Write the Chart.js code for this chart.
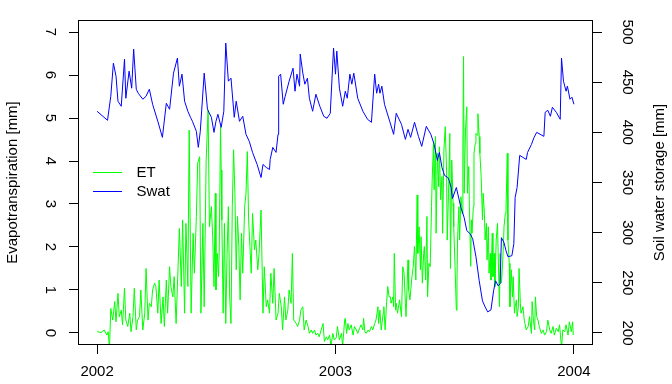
<!DOCTYPE html>
<html><head><meta charset="utf-8">
<script src="https://cdn.jsdelivr.net/npm/chart.js@4.4.1/dist/chart.umd.min.js"></script>
<style>html,body{margin:0;padding:0;background:#fff}#wrap{width:672px;height:384px}</style>
</head><body><div id="wrap"><canvas id="c" width="672" height="384"></canvas></div>
<script>
// ---- data (day offset from 2002-01-01) ----
const yearTicks = [0, 365, 730];
const yearLabels = ['2002', '2003', '2004'];
const etTicks = [0, 1, 2, 3, 4, 5, 6, 7];
const swatTicks = [200, 250, 300, 350, 400, 450, 500];

const etDays = [0,6,11,15,17,19,21,24,27,29,32,34,37,39,42,44,47,50,52,55,57,60,62,65,67,70,73,75,78,80,83,85,88,90,93,95,98,101,103,106,108,111,113,116,118,121,124,126,129,131,134,136,139,141,144,147,149,152,154,157,159,162,164,167,170,172,175,177,179,181,182,184,186,187,189,190,191,193,195,197,199,201,203,205,207,209,211,213,215,217,219,221,223,226,228,230,232,234,236,238,241,243,246,248,251,254,256,259,261,264,266,269,271,274,277,279,282,284,287,289,292,294,297,299,301,305,307,310,312,315,317,320,323,325,328,330,333,335,338,340,343,346,348,351,353,356,358,361,363,366,368,371,374,376,379,380,382,384,386,389,392,394,397,399,402,404,407,408,410,412,415,417,420,422,425,427,430,431,433,435,438,439,441,443,445,447,449,450,453,454,455,457,458,460,463,466,468,470,472,473,476,477,479,482,484,486,488,490,491,493,495,496,498,500,501,503,505,506,508,510,512,513,515,516,518,519,521,523,524,526,528,529,531,533,535,536,538,540,541,543,545,546,548,550,551,552,554,555,557,559,560,561,562,564,566,567,569,570,572,573,574,576,577,579,580,582,583,585,586,588,590,591,593,594,596,597,599,600,602,603,605,606,608,609,611,613,614,616,617,619,620,622,623,625,626,628,629,631,632,634,636,637,639,640,642,643,645,646,648,649,652,654,657,660,662,665,666,668,670,671,673,675,677,680,683,685,688,690,693,695,698,700,703,706,708,711,713,716,718,721,723,726,728,729,730];
const etValues = [0.03,0.01,0.07,-0.05,0.03,-0.35,0.57,0.30,0.73,0.26,0.92,0.38,0.53,0.19,1.04,0.30,0.15,0.46,0.03,0.38,1.04,0.07,0.30,0.38,1.0,0.07,0.46,1.50,0.30,0.69,0.61,1.0,1.16,1.08,0.46,1.23,0.22,0.84,0.15,1.23,0.46,1.54,1.08,0.84,1.31,0.22,1.54,2.43,1.08,2.63,0.46,2.55,1.08,4.72,0.46,2.32,1.39,2.71,3.95,4.10,0.46,2.55,0.61,4.02,5.19,2.47,2.94,2.24,1.08,3.25,1.0,1.85,1.31,1.93,4.80,3.79,2.63,0.46,2.55,0.22,1.85,2.94,0.84,0.22,2.94,4.26,3.25,1.47,2.71,2.01,0.77,2.32,1.39,2.94,3.25,4.22,2.63,2.01,1.39,2.78,1.93,2.16,1.47,1.85,2.86,0.46,1.54,0.61,0.77,0.46,1.39,0.69,1.50,0.30,0.46,0.92,0.61,0.07,0.84,0.30,0.53,1.0,0.69,1.85,0.30,0.22,0.15,0.30,0.53,0.61,0.07,0.30,0.15,-0.01,0.07,-0.01,0.07,-0.05,-0.01,-0.09,0.07,0.22,-0.2,-0.09,-0.16,-0.05,-0.3,-0.01,-0.16,-0.12,0.15,-0.16,-0.01,-0.3,0.30,0.34,-0.01,0.22,0.07,0.19,-0.05,0.15,0.07,-0.01,0.11,0.19,0.07,0.34,0.03,-0.01,0.07,0.03,0.15,0.07,0.22,0.30,0.61,0.22,0.53,0.07,0.46,0.61,0.07,0.65,1.08,0.84,0.84,0.69,0.84,0.61,1.85,0.53,0.69,0.46,0.77,0.38,1.54,1.39,0.69,0.38,1.70,1.0,0.77,1.31,1.54,2.01,1.23,3.21,1.85,2.47,1.47,2.24,1.16,1.85,2.01,1.23,2.71,0.84,1.62,1.54,2.94,3.56,4.41,3.33,4.57,2.32,4.18,3.40,4.33,3.1,3.64,2.32,4.26,4.80,3.79,2.16,3.25,4.64,1.5,4.02,3.02,2.47,1.55,0.53,1.23,2.24,2.94,2.16,3.17,2.78,4.33,6.43,3.25,4.72,5.26,3.25,3.87,2.94,1.55,2.63,2.32,2.94,4.18,4.41,4.64,4.60,5.10,4.57,4.18,3.64,2.63,3.25,2.78,2.16,2.55,1.70,2.47,1.39,1.85,1.23,2.32,1.31,1.85,1.08,2.16,2.55,1.85,0.61,1.85,1.16,1.39,2.01,2.47,2.78,2.86,4.18,2.16,1.62,0.61,1.47,0.84,1.31,0.46,0.61,0.77,0.38,0.61,1.50,0.69,0.46,0.61,0.30,0.07,0.15,0.38,-0.01,0.73,0.30,0.07,0.84,0.38,0.30,0.15,-0.01,0.07,-0.05,0.03,0.30,0.07,-0.01,0.15,-0.05,0.11,0.03,0.19,-0.35,0.07,0.03,0.19,-0.05,0.26,0.03,0.26,-0.05,-0.05];

const swatDays = [0,16,21,25,29,32,37,42,44,49,53,56,60,63,70,75,80,85,93,100,106,111,117,123,126,130,134,139,143,146,152,155,158,164,169,175,179,182,185,190,194,197,201,205,210,213,218,223,228,233,238,245,251,254,259,264,265,269,274,277,278,281,285,288,294,300,303,306,310,311,315,318,322,325,330,335,341,347,352,357,362,365,367,371,376,380,383,387,390,393,399,407,414,420,425,428,431,433,436,440,448,454,458,466,472,476,480,486,492,497,504,511,516,521,524,528,532,537,539,542,544,550,557,562,566,571,575,580,585,590,594,598,603,607,610,614,617,619,623,626,629,635,638,640,643,647,657,659,665,669,673,684,686,690,694,697,703,709,711,714,718,720,724,727,730];
const swatValues = [421,412,436,469,456,431,426,473,434,461,444,483,443,439,433,436,443,428,411,395,429,423,459,474,446,458,431,421,415,411,401,385,401,459,423,415,400,411,418,405,421,489,451,454,415,431,411,416,398,391,380,368,355,368,365,363,373,385,380,398,456,458,428,436,451,464,441,458,446,478,459,448,454,434,421,438,426,416,414,419,484,458,481,444,426,441,434,458,448,459,434,421,413,410,458,439,448,439,446,428,411,398,419,408,393,403,395,410,396,386,406,398,388,372,380,365,357,355,352,345,334,345,325,315,302,299,294,276,252,232,226,221,223,242,252,247,249,295,290,282,276,277,289,335,345,377,373,380,388,395,400,396,420,422,416,425,420,413,474,451,441,446,433,435,428];

const FONT_FAMILY = "'Liberation Sans', 'DejaVu Sans', Arial, sans-serif";
Chart.defaults.font.family = FONT_FAMILY;
Chart.defaults.font.size = 15;
Chart.defaults.color = '#000';

const toXY = (xs, ys) => xs.map((d, i) => ({ x: d, y: ys[i] }));

const decor = {
  id: 'decor',
  afterDraw(chart) {
    const { ctx, chartArea: a } = chart;
    ctx.save();
    ctx.strokeStyle = '#000';
    ctx.lineWidth = 1;
    ctx.strokeRect(Math.round(a.left) + 0.5, Math.round(a.top) + 0.5,
      Math.round(a.right - a.left) - 1, Math.round(a.bottom - a.top) - 1);
    ctx.fillStyle = '#000';
    ctx.font = '15px ' + FONT_FAMILY;
    ctx.textAlign = 'center';
    ctx.textBaseline = 'middle';
    const cy = (a.top + a.bottom) / 2;
    ctx.save(); ctx.translate(13, cy); ctx.rotate(-Math.PI / 2);
    ctx.fillText('Evapotranspiration [mm]', 0, 0); ctx.restore();
    ctx.save(); ctx.translate(660, cy); ctx.rotate(-Math.PI / 2);
    ctx.fillText('Soil water storage [mm]', 0, 0); ctx.restore();
    // legend
    const items = [['ET', '#00ff00', 172.5], ['Swat', '#0000ff', 191.5]];
    ctx.textAlign = 'left';
    items.forEach(([t, c, y]) => {
      ctx.strokeStyle = c; ctx.beginPath(); ctx.moveTo(93, y); ctx.lineTo(122, y); ctx.stroke();
      ctx.fillStyle = '#000'; ctx.fillText(t, 136.5, y);
    });
    ctx.restore();
  }
};

const tickGrid = { drawOnChartArea: false, drawTicks: true, tickLength: 9, color: '#000', lineWidth: 1 };
const noPad = s => { s.paddingTop = 0; s.paddingBottom = 0; s.paddingLeft = 0; s.paddingRight = 0; };

new Chart(document.getElementById('c'), {
  type: 'line',
  data: {
    datasets: [
      { label: 'ET', data: toXY(etDays, etValues), yAxisID: 'yET', borderColor: '#00ff00', borderWidth: 1, pointRadius: 0, tension: 0, order: 1 },
      { label: 'Swat', data: toXY(swatDays, swatValues), yAxisID: 'ySwat', borderColor: '#0000ff', borderWidth: 1, pointRadius: 0, tension: 0, order: 0 }
    ]
  },
  options: {
    responsive: false, animation: false, devicePixelRatio: 1,
    layout: { padding: { top: 20, left: 0, right: 0, bottom: 0 } },
    plugins: { legend: { display: false }, tooltip: { enabled: false } },
    scales: {
      x: {
        type: 'linear', min: -29.2, max: 759.2,
        afterBuildTicks: s => { s.ticks = yearTicks.map(v => ({ value: v })); },
        ticks: { callback: (v, i) => yearLabels[i], autoSkip: false, minRotation: 0, maxRotation: 0, padding: 9 },
        grid: tickGrid, border: { display: false },
        afterFit: s => { s.height = 39; noPad(s); }
      },
      yET: {
        type: 'linear', position: 'left', min: -0.28, max: 7.28,
        afterBuildTicks: s => { s.ticks = etTicks.map(v => ({ value: v })); },
        ticks: { minRotation: -90, crossAlign: 'center', padding: 15, autoSkip: false },
        grid: tickGrid, border: { display: false },
        afterFit: s => { s.width = 78; noPad(s); }
      },
      ySwat: {
        type: 'linear', position: 'right', min: 188, max: 512,
        afterBuildTicks: s => { s.ticks = swatTicks.map(v => ({ value: v })); },
        ticks: { minRotation: -90, crossAlign: 'center', padding: 13, autoSkip: false },
        grid: tickGrid, border: { display: false },
        afterFit: s => { s.width = 79; noPad(s); }
      }
    }
  },
  plugins: [decor]
});
</script></body></html>
